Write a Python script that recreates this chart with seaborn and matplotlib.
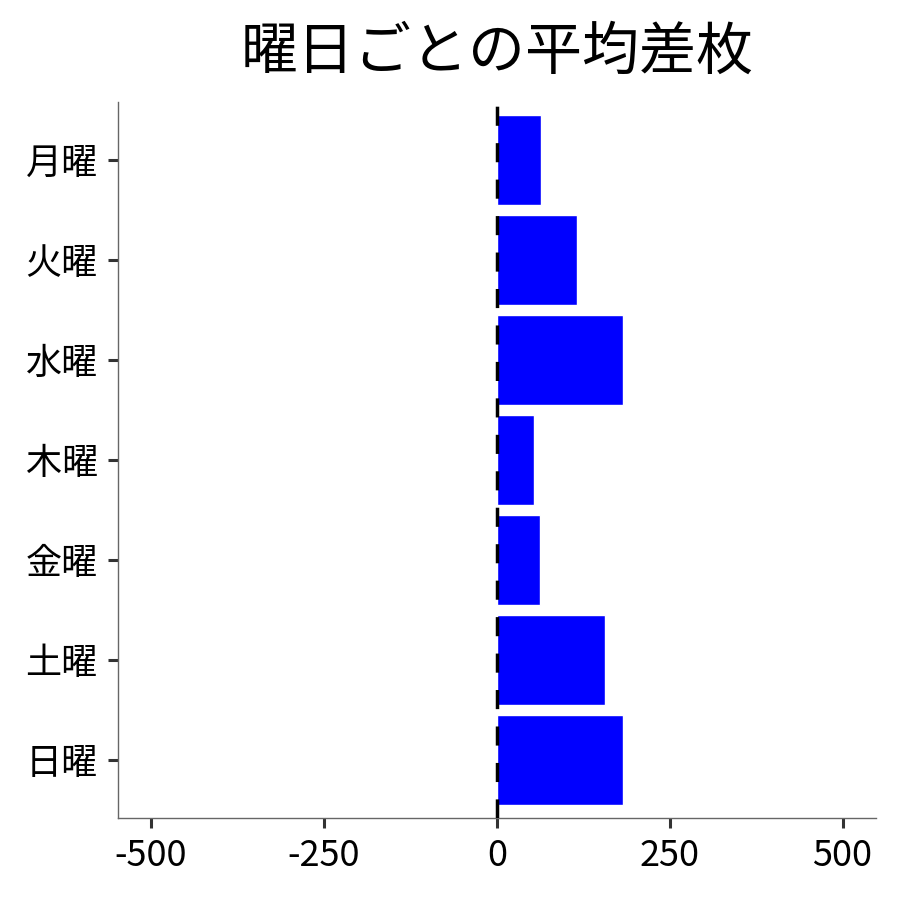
import matplotlib
matplotlib.use("Agg")
import matplotlib.pyplot as plt
import seaborn as sns
import pandas as pd

# weekday averages
days = ["月曜", "火曜", "水曜", "木曜", "金曜", "土曜", "日曜"]
avg_diff = [64, 116, 182, 54, 62, 156, 182]

df = pd.DataFrame({"day": days, "diff": avg_diff})

sns.set_style("ticks")
plt.rcParams["font.family"] = ["Noto Sans CJK JP", "DejaVu Sans"]
plt.rcParams["axes.unicode_minus"] = False
plt.rcParams["text.color"] = "black"
plt.rcParams["xtick.labelcolor"] = "black"
plt.rcParams["ytick.labelcolor"] = "black"

fig = plt.figure(figsize=(9, 9), dpi=100)
ax = fig.add_axes([0.131, 0.091, 0.842, 0.796])

sns.barplot(data=df, x="diff", y="day", color="#0000ff", saturation=1,
            width=0.9, ax=ax, orient="h")
ax.axvline(0, color="black", linewidth=2.5, linestyle=(0, (5.5, 5)), zorder=5)

ax.set_xlim(-548, 548)
ax.set_ylim(6.58, -0.58)
ax.set_xticks([-500, -250, 0, 250, 500])
ax.set_xlabel("")
ax.set_ylabel("")
ax.set_title("曜日ごとの平均差枚", fontsize=41, pad=24, color="black")
ax.tick_params(axis="both", labelsize=26, length=7.5, width=2.2,
               color="#333333", pad=7, labelcolor="black")

sns.despine(ax=ax)
for s in ["left", "bottom"]:
    ax.spines[s].set_color("#666666")
    ax.spines[s].set_linewidth(1)

fig.savefig("out.png", dpi=100)
